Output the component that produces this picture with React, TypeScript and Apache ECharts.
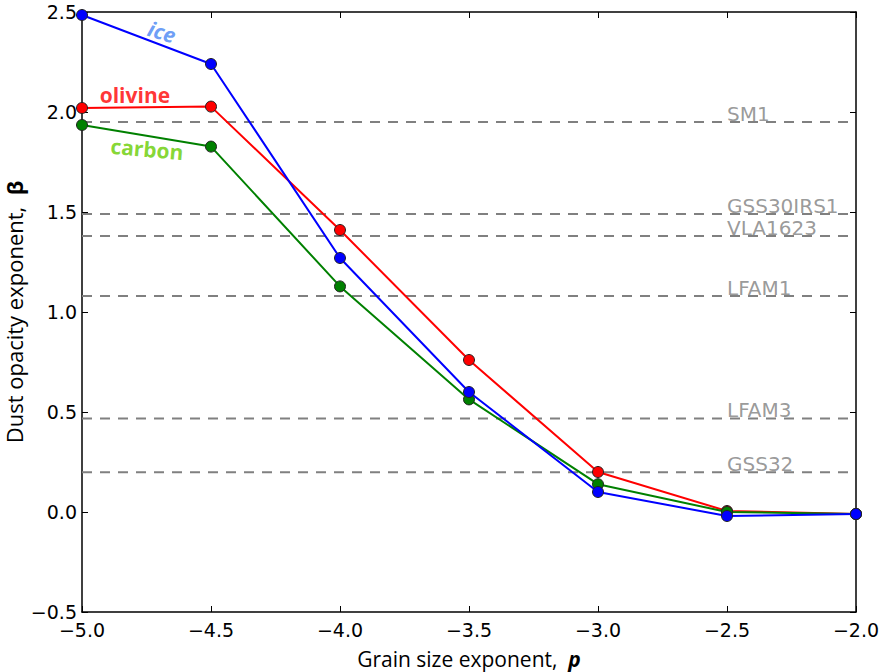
import React, { useEffect, useRef } from "react";
import * as echarts from "echarts";

const xValues = [-5.0, -4.5, -4.0, -3.5, -3.0, -2.5, -2.0];
const iceBeta = [2.485, 2.24, 1.27, 0.6, 0.1, -0.02, -0.01];
const olivineBeta = [2.02, 2.027, 1.41, 0.76, 0.2, 0.005, -0.01];
const carbonBeta = [1.935, 1.827, 1.128, 0.563, 0.139, 0.0, -0.01];

const refNames = ["SM1", "GSS30IRS1", "VLA1623", "LFAM1", "LFAM3", "GSS32"];
const refBeta = [1.95, 1.49, 1.38, 1.08, 0.468, 0.199];
const refLabelX = -2.5;

const seriesNames = ["ice", "olivine", "carbon"];
const seriesLabelX = [-4.69, -4.795, -4.748];
const seriesLabelY = [2.4, 2.085, 1.815];

const xTicks = { min: -5, max: -2, interval: 0.5 };
const yTicks = { min: -0.5, max: 2.5, interval: 0.5 };

const fmt = (v: number) => (v < -1e-9 ? "\u2212" : "") + Math.abs(v).toFixed(1);

export default function App() {
  const ref = useRef<HTMLDivElement>(null);
  useEffect(() => {
    if (!ref.current) return;
    const chart = echarts.init(ref.current, undefined, { renderer: "svg" });
    const tickFont = { fontFamily: "DejaVu Sans", fontSize: 19, color: "#000" };
    const axisBase = {
      type: "value" as const,
      axisLine: { show: true, onZero: false, lineStyle: { color: "#000", width: 1.5 } },
      axisTick: { show: true, inside: true, length: 6, lineStyle: { color: "#000", width: 1 } },
      splitLine: { show: false },
    };
    const lineColors = ["#0000ff", "#ff0000", "#008000"];
    const labelColors = ["#4785f4", "#ff0000", "#66cc00"];
    const labelRot = [-17, 0, -5];
    const dataSets = [iceBeta, olivineBeta, carbonBeta];

    const refSeries = refBeta.map((b, i) => ({
      type: "line",
      name: refNames[i],
      data: [[xTicks.min, b], [xTicks.max, b]],
      symbol: "none",
      silent: true,
      z: 1,
      lineStyle: { color: "#808080", width: 2, type: [10, 8] },
    }));
    const refLabelSeries = {
      type: "scatter",
      symbolSize: 0,
      silent: true,
      z: 2,
      data: refBeta.map((b, i) => ({ value: [refLabelX, b], name: refNames[i] })),
      label: {
        show: true,
        position: [0, 0],
        align: "left",
        verticalAlign: "bottom",
        offset: [0, 2],
        formatter: (p: any) => p.name,
        fontFamily: "DejaVu Sans",
        fontSize: 20,
        color: "#808080",
      },
    };
    // z-order: olivine, carbon, ice
    const order = [1, 2, 0];
    const dataSeries = order.map((k, j) => ({
      type: "line",
      name: seriesNames[k],
      data: xValues.map((x, i) => [x, dataSets[k][i]]),
      symbol: "circle",
      symbolSize: 11,
      z: 3 + j,
      lineStyle: { color: lineColors[k], width: 2 },
      itemStyle: { color: lineColors[k], borderColor: "#222", borderWidth: 1 },
    }));
    const nameSeries = seriesNames.map((n, k) => ({
      type: "scatter",
      symbolSize: 0,
      silent: true,
      z: 10,
      data: [{ value: [seriesLabelX[k], seriesLabelY[k]], name: n }],
      label: {
        show: true,
        position: "inside",
        formatter: (p: any) => p.name,
        rotate: labelRot[k],
        fontFamily: "Open Sans",
        fontWeight: "bold",
        fontStyle: k === 0 ? "italic" : "normal",
        fontSize: 21,
        color: labelColors[k],
      },
    }));

    chart.setOption({
      animation: false,
      backgroundColor: "#fff",
      grid: { left: 82, right: 30, top: 12, bottom: 60, containLabel: false, outerBoundsMode: "none" },
      xAxis: [
        {
          ...axisBase,
          ...xTicks,
          position: "bottom",
          axisLabel: { ...tickFont, margin: 8, formatter: fmt },
          name: "Grain size exponent,  {b|p}",
          nameLocation: "middle",
          nameGap: 36,
          nameMoveOverlap: false,
          nameTextStyle: {
            fontFamily: "Open Sans",
            fontSize: 21,
            color: "#000",
            rich: { b: { fontFamily: "Open Sans", fontSize: 21, fontWeight: "bold", fontStyle: "italic", color: "#000" } },
          },
        },
        { ...axisBase, ...xTicks, position: "top", axisLabel: { show: false } },
      ],
      yAxis: [
        {
          ...axisBase,
          ...yTicks,
          position: "left",
          axisLabel: { ...tickFont, margin: 5, formatter: fmt },
          name: "Dust opacity exponent,  {b|\u03b2}",
          nameLocation: "middle",
          nameGap: 57,
          nameMoveOverlap: false,
          nameRotate: 90,
          nameTextStyle: {
            fontFamily: "Open Sans",
            fontSize: 22,
            lineHeight: 22,
            color: "#000",
            rich: { b: { fontFamily: "Open Sans", fontSize: 22, lineHeight: 22, fontWeight: "bold", color: "#000" } },
          },
        },
        { ...axisBase, ...yTicks, position: "right", axisLabel: { show: false } },
      ],
      series: [...refSeries, refLabelSeries, ...dataSeries, ...nameSeries],
    });
    return () => chart.dispose();
  }, []);
  return (
    <div
      ref={ref}
      style={{ position: "absolute", left: 0, top: 0, width: 886, height: 672 }}
    />
  );
}
